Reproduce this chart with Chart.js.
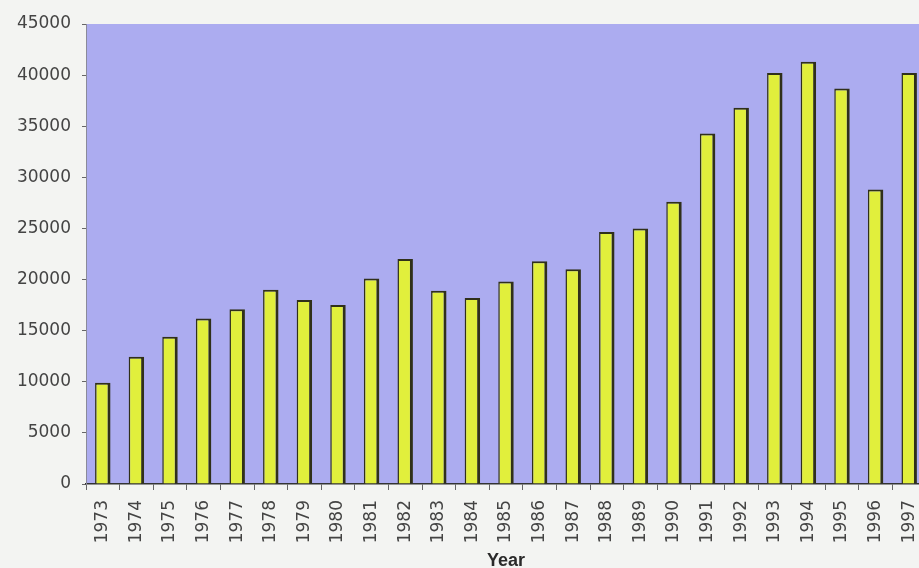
<!DOCTYPE html>
<html>
<head>
<meta charset="utf-8">
<title>Yearly totals 1973–1997</title>
<script src="https://cdn.jsdelivr.net/npm/chart.js@4/dist/chart.umd.min.js"></script>
<style>
  html, body { margin: 0; padding: 0; background: #f3f4f2; overflow: hidden; }
  canvas { display: block; }
</style>
</head>
<body>
<canvas id="chart" width="926" height="568"></canvas>
<script>
// Years on the category axis
const years = ['1973','1974','1975','1976','1977','1978','1979','1980','1981','1982',
               '1983','1984','1985','1986','1987','1988','1989','1990','1991','1992',
               '1993','1994','1995','1996','1997'];

// Yearly totals
const totals = [9900, 12450, 14400, 16200, 17100, 19000, 18000, 17500, 20100, 22000,
                18900, 18200, 19800, 21800, 21000, 24650, 25000, 27600, 34300, 36800,
                40200, 41300, 38700, 28800, 40200];

// Value axis ticks
const yTicks = [0, 5000, 10000, 15000, 20000, 25000, 30000, 35000, 40000, 45000];

const FONT = 'DejaVu Sans';

// Fill the plotting area with the lavender backdrop
const plotBackground = {
  id: 'plotBackground',
  beforeDraw(chart) {
    const { ctx, chartArea: a } = chart;
    ctx.save();
    ctx.fillStyle = '#acacf0';
    ctx.fillRect(a.left, a.top, a.right - a.left, a.bottom - a.top);
    ctx.restore();
  }
};

new Chart(document.getElementById('chart'), {
  type: 'bar',
  data: {
    labels: years,
    datasets: [{
      data: totals,
      backgroundColor: '#e1ef3c',
      borderColor: '#30301a',
      borderWidth: { left: 1.5, right: 3, top: 2, bottom: 0 },
      borderSkipped: 'bottom',
      barPercentage: 0.46,
      categoryPercentage: 1.0
    }]
  },
  options: {
    responsive: false,
    animation: false,
    layout: { padding: { left: 0, top: 24, right: 0, bottom: 0 } },
    plugins: {
      legend: { display: false },
      tooltip: { enabled: false }
    },
    scales: {
      x: {
        type: 'category',
        offset: true,
        afterFit(scale) {
          scale.height = 84;
          scale.paddingLeft = 0;
          scale.paddingRight = 0;
        },
        grid: {
          offset: true,
          drawOnChartArea: false,
          drawTicks: true,
          tickLength: 6,
          color: '#666'
        },
        border: { display: true, color: '#333', width: 1.5 },
        ticks: {
          autoSkip: false,
          minRotation: 90,
          maxRotation: 90,
          padding: 10,
          color: '#444',
          font: { family: FONT, size: 17 }
        },
        title: {
          display: true,
          text: 'Year',
          color: '#2a2a2a',
          font: { family: 'Liberation Sans', size: 18, weight: 'bold' },
          padding: { top: 0, bottom: -4 }
        }
      },
      y: {
        min: 0,
        max: 45000,
        afterFit(scale) {
          scale.width = 86;
          scale.paddingTop = 0;
          scale.paddingBottom = 0;
        },
        afterBuildTicks(scale) { scale.ticks = yTicks.map(v => ({ value: v })); },
        grid: {
          drawOnChartArea: false,
          drawTicks: true,
          tickLength: 4,
          color: '#666'
        },
        border: { display: true, color: '#8a8a9a', width: 1 },
        ticks: {
          padding: 11,
          color: '#444',
          font: { family: FONT, size: 17 },
          callback: v => String(v)
        }
      }
    }
  },
  plugins: [plotBackground]
});
</script>
</body>
</html>
